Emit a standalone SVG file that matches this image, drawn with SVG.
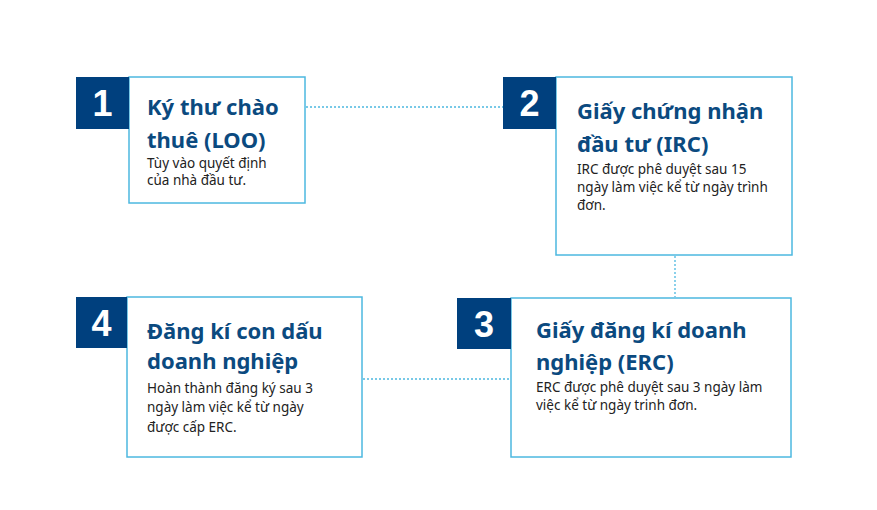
<svg xmlns="http://www.w3.org/2000/svg" width="877" height="510" viewBox="0 0 877 510">
<style>
.box{fill:#fff;stroke:#4cb8e0;stroke-width:1.5}
.num{fill:#00407e}
.numt{fill:#fff;font-family:"Liberation Sans",Arial,sans-serif;font-weight:bold;font-size:36px;text-anchor:middle}
.title{fill:#0b4a7f;font-family:"Noto Sans","Open Sans",sans-serif;font-weight:bold;font-size:22px}
.body{fill:#222;font-family:"Noto Sans","Open Sans",sans-serif;font-size:13.5px}
.conn{stroke:#4cb8e0;stroke-width:1.3;stroke-dasharray:2 2;fill:none}
</style>
<rect width="877" height="510" fill="#fff"/>
<g id="connectors">
<line class="conn" x1="306" y1="107" x2="503" y2="107"/>
<line class="conn" x1="675" y1="256" x2="675" y2="297"/>
<line class="conn" x1="363" y1="379" x2="511" y2="379"/>
</g>
<g id="node1">
<rect class="box" x="129" y="77" width="176" height="126"/>
<rect class="num" x="76" y="77" width="53" height="52"/>
<text class="numt" x="102.5" y="116">1</text>
<text class="title" x="147" y="115">Ký thư chào</text>
<text class="title" x="147" y="148">thuê (LOO)</text>
<text class="body" x="147" y="168">Tùy vào quyết định</text>
<text class="body" x="147" y="185">của nhà đầu tư.</text>
</g>
<g id="node2">
<rect class="box" x="556" y="77" width="236" height="178"/>
<rect class="num" x="503" y="77" width="53" height="52"/>
<text class="numt" x="529.5" y="116">2</text>
<text class="title" x="577" y="119">Giấy chứng nhận</text>
<text class="title" x="577" y="152">đầu tư (IRC)</text>
<text class="body" x="577" y="174">IRC được phê duyệt  sau 15</text>
<text class="body" x="577" y="192">ngày làm việc kể từ ngày trình</text>
<text class="body" x="577" y="210">đơn.</text>
</g>
<g id="node3">
<rect class="box" x="511" y="298" width="280" height="159"/>
<rect class="num" x="457" y="298" width="54" height="51"/>
<text class="numt" x="484" y="337">3</text>
<text class="title" x="536" y="338">Giấy đăng kí doanh</text>
<text class="title" x="536" y="370">nghiệp (ERC)</text>
<text class="body" x="536" y="392">ERC được phê duyệt  sau 3 ngày làm</text>
<text class="body" x="536" y="410">việc kể từ ngày trinh  đơn.</text>
</g>
<g id="node4">
<rect class="box" x="127" y="297" width="235" height="160"/>
<rect class="num" x="76" y="297" width="51" height="51"/>
<text class="numt" x="101.5" y="336">4</text>
<text class="title" x="147" y="339">Đăng kí con dấu</text>
<text class="title" x="147" y="369">doanh nghiệp</text>
<text class="body" x="147" y="393">Hoàn thành  đăng ký sau 3</text>
<text class="body" x="147" y="412">ngày làm việc kể từ ngày</text>
<text class="body" x="147" y="432">được cấp ERC.</text>
</g>
</svg>
